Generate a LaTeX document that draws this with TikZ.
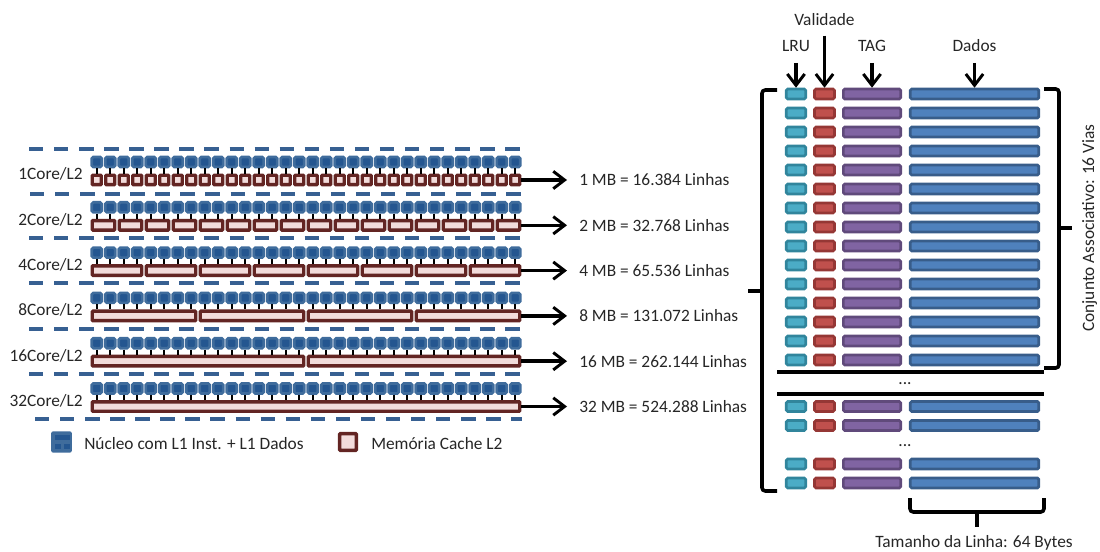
\documentclass[tikz,border=0pt]{standalone}
\usepackage{fontspec}
\setmainfont{Carlito}
\usetikzlibrary{arrows.meta}
\usetikzlibrary{calc}
\definecolor{coreout}{HTML}{3F6C9C}
\definecolor{corein}{HTML}{245690}
\definecolor{cacheout}{HTML}{632523}
\definecolor{cachein}{HTML}{F2DCDB}
\definecolor{dashblue}{HTML}{376092}
\definecolor{lruout}{HTML}{31859C}
\definecolor{lruin}{HTML}{4BACC6}
\definecolor{valout}{HTML}{953735}
\definecolor{valin}{HTML}{C0504D}
\definecolor{tagout}{HTML}{604A7B}
\definecolor{tagin}{HTML}{8064A2}
\definecolor{dadosout}{HTML}{385D8A}
\definecolor{dadosin}{HTML}{4F81BD}
\tikzset{
  txt/.style={inner sep=0, font=\fontsize{13pt}{15pt}\selectfont, text height=12pt, text depth=3pt, text=black!85},
  core/.style={draw=coreout, fill=corein, line width=2pt, rounded corners=1.2pt, inner sep=0, minimum width=7.5pt, minimum height=7.5pt},
  cache/.style={draw=cacheout, fill=cachein, line width=2.6pt, rounded corners=.6pt, inner sep=0, minimum height=7.1pt, minimum width=#1},
  way/.style 2 args={draw=#1, fill=#2, line width=2pt, rounded corners=1pt, inner sep=0, minimum height=7.4pt},
  lru/.style={way={lruout}{lruin}, minimum width=14.6pt},
  val/.style={way={valout}{valin}, minimum width=15pt},
  tagbox/.style={way={tagout}{tagin}, minimum width=43pt},
  dados/.style={way={dadosout}{dadosin}, minimum width=96.4pt},
  bracket/.style={black, line width=2.7pt, rounded corners=2.5pt},
  seta/.style={black, line width=2.6pt, -{Straight Barb[length=8.5pt,width=13pt,line width=2.2pt]}},
}
\begin{document}
\begin{tikzpicture}[x=.75pt, y=-.75pt]
\useasboundingbox (0,0) rectangle (1100,552);
% separators between the rows
\foreach \y/\xa in {149/29,194/30,238/29,283/29,329/29,374/29,419/35} {
 \draw[dashblue, line width=2.7pt, dash pattern=on 10.8pt off 8pt] (\xa,\y) -- (522,\y);
}
% rows of 32 cores over the shared caches
\foreach \n/\c/\txt [count=\r from 0] in {32/1/1 MB = 16.384 Linhas,16/2/2 MB = 32.768 Linhas,8/4/4 MB = 65.536 Linhas,4/8/8 MB = 131.072 Linhas,2/16/16 MB = 262.144 Linhas,1/32/32 MB = 524.288 Linhas} {
 \pgfmathsetmacro{\ycore}{162+\r*45.3}
 \pgfmathsetmacro{\ycache}{180+\r*45.3}
 \pgfmathsetmacro{\stepw}{432/\n}
 \pgfmathsetmacro{\wcache}{(\stepw-4.5)*.75}
 \node[txt, anchor=east] (nome\r) at (83,174+\r*45.3) {\c Core/L2};
 \foreach \k in {1,...,\n} {
  \node[cache=\wcache pt] (cache\r-\k) at ({90+(\k-.5)*\stepw},\ycache) {};
 }
 \foreach \i in {1,...,32} {
  \pgfmathtruncatemacro{\k}{ceil(\i*\n/32)}
  \node[core] (core\r-\i) at ({90+(\i-.5)*13.5},\ycore) {};
  \draw[black, line width=1.5pt] (core\r-\i.south) -- (core\r-\i.south |- cache\r-\k.north);
 }
 \node[txt, anchor=west] (linhas\r) at (579,\ycache) {\txt};
 \draw[seta, shorten >=9pt] (cache\r-\n.east) -- (linhas\r.west);
}
% legend
\node[core, line width=0pt, draw=none, fill=coreout, minimum width=15.5pt, minimum height=16pt, rounded corners=1.5pt] (legcore) at (61.5,442) {};
\fill[corein] ($(legcore.center)+(-7,-7)$) rectangle ++(15,5);
\fill[corein] ($(legcore.center)+(-7,2)$) rectangle ++(6,5);
\fill[corein] ($(legcore.center)+(2,2)$) rectangle ++(6,5);
\node[txt, anchor=west] (legcoretxt) at (84,443) {Núcleo com L1 Inst. + L1 Dados};
\node[cache=12.5pt, minimum height=12.5pt] (legcache) at (348,442) {};
\node[txt, anchor=west] (legcachetxt) at (371,443) {Memória Cache L2};
% ways of the set
\foreach \r/\y in {1/94,2/113,3/132,4/151,5/170,6/189,7/208,8/227,9/246,10/265,11/284,12/303,13/322,14/341,15/360,16/406.5,17/425.5,18/464,19/483} {
 \node[lru] (lru\r) at (796,\y) {};
 \node[val] (val\r) at (824.5,\y) {};
 \node[tagbox] (tag\r) at (872,\y) {};
 \node[dados] (dados\r) at (974.5,\y) {};
}
% field labels
\node[txt] (lLRU) at (796,46) {LRU};
\node[txt] (lVal) at (824.5,20) {Validade};
\node[txt] (lTag) at (872,46) {TAG};
\node[txt] (lDados) at (974.5,46) {Dados};
\draw[seta, shorten <=5pt] (lLRU) -- (lru1.north);
\draw[seta, shorten <=4pt] (lVal) -- (val1.north);
\draw[seta, shorten <=5pt] (lTag) -- (tag1.north);
\draw[seta, shorten <=5pt] (lDados) -- (dados1.north);
% brackets
\coordinate (esqA) at (777,90);
\coordinate (esqB) at (777,491);
\coordinate (esqM) at (748,291);
\draw[bracket] (esqA) -- (762,90) -- (762,491) -- (esqB);
\draw[black, line width=2.7pt] (esqM) -- (762,291);
\coordinate (dirA) at (1044,89);
\coordinate (dirB) at (1044,368);
\coordinate (dirM) at (1072,228);
\draw[bracket] (dirA) -- (1059,89) -- (1059,368) -- (dirB);
\draw[black, line width=2.7pt] (1059,228) -- (dirM);
\node[txt, rotate=90] (assoc) at (1088,228) {Conjunto Associativo: 16 Vias};
% lines around the omitted sets
\coordinate (sepA) at (777,372);
\coordinate (sepB) at (1044,372);
\coordinate (sepC) at (777,394);
\coordinate (sepD) at (1044,394);
\draw[black, line width=2.7pt] (sepA) -- (sepB);
\draw[black, line width=2.7pt] (sepC) -- (sepD);
\node[txt] (pontosA) at (905,378) {...};
\node[txt] (pontosB) at (905,440) {...};
% brace under the data field
\coordinate (chA) at (910,498);
\coordinate (chB) at (1044,498);
\coordinate (chM) at (977,527);
\draw[bracket] (chA) -- (910,512) -- (1044,512) -- (chB);
\draw[black, line width=2.7pt] (977,512) -- (chM);
\node[txt] (tamanho) at (974,541) {Tamanho da Linha: 64 Bytes};
\end{tikzpicture}
\end{document}
